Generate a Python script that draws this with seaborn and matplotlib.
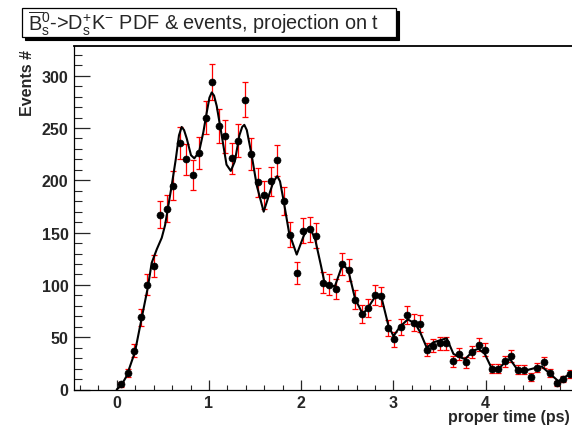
import numpy as np
import pandas as pd
import matplotlib
matplotlib.use("Agg")
import matplotlib.pyplot as plt
from matplotlib.patches import Rectangle
from matplotlib.ticker import MultipleLocator, FixedLocator
import seaborn as sns

# Binned decay-time data (events per bin) for Bs -> Ds K
bin_centers = np.linspace(0.047, 4.912, 70)
events = [5, 16, 37, 69, 100, 118, 167, 173, 195, 236,
          220, 205, 226, 260, 294, 252, 242, 221, 238, 277,
          225, 198, 186, 199, 219, 180, 148, 111, 152, 153,
          147, 102, 100, 96, 120, 114, 86, 72, 78, 90,
          89, 59, 48, 60, 71, 64, 63, 38, 42, 44,
          44, 27, 34, 26, 36, 43, 38, 20, 20, 27,
          32, 19, 19, 12, 21, 26, 16, 6, 10, 15]

# Projected PDF (fit result) sampled along t
pdf_t = [0.0, 0.05, 0.108, 0.198, 0.27, 0.336, 0.379, 0.434, 0.488, 0.524,
         0.56, 0.596, 0.64, 0.675, 0.704, 0.73, 0.759, 0.805, 0.841, 0.892,
         0.939, 0.976, 1.005, 1.03, 1.055, 1.084, 1.138, 1.19, 1.236, 1.28,
         1.33, 1.36, 1.383, 1.41, 1.463, 1.518, 1.593, 1.662, 1.70, 1.74,
         1.77, 1.806, 1.868, 1.951, 2.023, 2.06, 2.092, 2.15, 2.215, 2.25,
         2.276, 2.366, 2.41, 2.45, 2.51, 2.583, 2.667, 2.73, 2.81, 2.87,
         2.945, 3.0, 3.07, 3.155, 3.235, 3.288, 3.36, 3.43, 3.54, 3.577,
         3.65, 3.72, 3.775, 3.865, 3.92, 3.99, 4.065, 4.14, 4.21, 4.263,
         4.335, 4.425, 4.553, 4.607, 4.697, 4.787, 4.878, 4.95]
pdf_val = [0, 4, 13, 36, 68, 97, 121, 134, 145, 157,
           176, 195, 220, 243, 251, 248, 240, 224, 221, 227,
           246, 265, 279, 284, 281, 271, 243, 215, 209, 218,
           243, 251, 253, 248, 224, 195, 170, 189, 199, 204,
           199, 182, 150, 129, 146, 153, 155, 144, 118, 103,
           99, 99, 110, 120, 114, 87, 72, 79, 90, 88,
           61, 51, 60, 67, 63, 55, 40, 45, 48, 49,
           34, 31, 29, 37, 39, 34, 20, 20, 26, 29,
           20, 18, 21, 22, 15, 8, 13, 16]

x_ticks = [0, 1, 2, 3, 4]
title_text = (r"$\overline{\mathrm{B}}{}^{0}_{\mathrm{s}}$->"
              r"D$^{+}_{\mathrm{s}}$K$^{-}$ PDF & events, projection on t")
x_label = "proper time (ps)"
y_label = "Events #"

sns.set_style("ticks")
plt.rcParams["font.family"] = ["Liberation Sans", "DejaVu Sans"]
plt.rcParams["mathtext.fontset"] = "custom"
plt.rcParams["mathtext.rm"] = "Liberation Sans"
plt.rcParams["mathtext.it"] = "Liberation Sans:italic"
plt.rcParams["mathtext.bf"] = "Liberation Sans:bold"

W, H = 572, 427
fig = plt.figure(figsize=(W / 100, H / 100), dpi=100)
ax = fig.add_axes([74 / W, (H - 390.5) / H, 504 / W, 343.5 / H])

data = pd.DataFrame({"t": bin_centers, "n": events})
data["err"] = np.sqrt(data["n"])
pdf = pd.DataFrame({"t": pdf_t, "pdf": pdf_val})

ax.errorbar(data["t"], data["n"], yerr=data["err"], fmt="none",
            ecolor="#ff0000", elinewidth=0.9, capsize=2.2, capthick=0.9,
            zorder=2)
sns.scatterplot(data=data, x="t", y="n", ax=ax, color="black", s=26,
                marker="o", edgecolor="black", linewidth=0.4, zorder=3)
sns.lineplot(data=pdf, x="t", y="pdf", ax=ax, color="black",
             linewidth=1.5, zorder=4)

ax.set_xlim(-0.463, 5.0)
ax.set_ylim(0, 328.4)
ax.set_xlabel("")
ax.set_ylabel("")

ax.xaxis.set_major_locator(FixedLocator(x_ticks))
ax.xaxis.set_minor_locator(MultipleLocator(0.2))
ax.yaxis.set_major_locator(MultipleLocator(50))
ax.yaxis.set_minor_locator(MultipleLocator(10))
ax.tick_params(axis="x", which="major", direction="in", length=7.2,
               width=0.9, pad=4.3, labelsize=11.5)
ax.tick_params(axis="x", which="minor", direction="in", length=3.4,
               width=0.8)
ax.tick_params(axis="y", which="major", direction="in", length=11.5,
               width=0.9, pad=4, labelsize=11.5)
ax.tick_params(axis="y", which="minor", direction="in", length=5.8,
               width=0.8)
for lab in ax.get_xticklabels() + ax.get_yticklabels():
    lab.set_fontweight("bold")
for sp in ax.spines.values():
    sp.set_color("black")
    sp.set_linewidth(0.9)
ax.spines["top"].set_linewidth(1.3)

# axis titles, ROOT-style placement
fig.text(27 / W, (H - 50) / H, y_label, rotation=90, ha="center", va="top",
         fontsize=11.5, fontweight="bold")
fig.text(570 / W, (H - 422) / H, x_label, ha="right", va="baseline",
         fontsize=11.5, fontweight="bold")

# title pave with drop shadow
bx0, bx1 = 21.7, 395.5
by0, by1 = 9.3, 37.7
sh = 3.0
fig.patches.append(Rectangle(((bx0 + sh) / W, (H - by1 - sh) / H),
                             (bx1 - bx0) / W, (by1 - by0) / H,
                             transform=fig.transFigure, facecolor="black",
                             edgecolor="black", linewidth=0.8, zorder=1))
fig.patches.append(Rectangle((bx0 / W, (H - by1) / H),
                             (bx1 - bx0) / W, (by1 - by0) / H,
                             transform=fig.transFigure, facecolor="white",
                             edgecolor="black", linewidth=0.9, zorder=2))
fig.text(28 / W, (H - 23.5) / H, title_text, ha="left", va="center",
         fontsize=14.3, zorder=3)

fig.savefig("out.png", dpi=100)
